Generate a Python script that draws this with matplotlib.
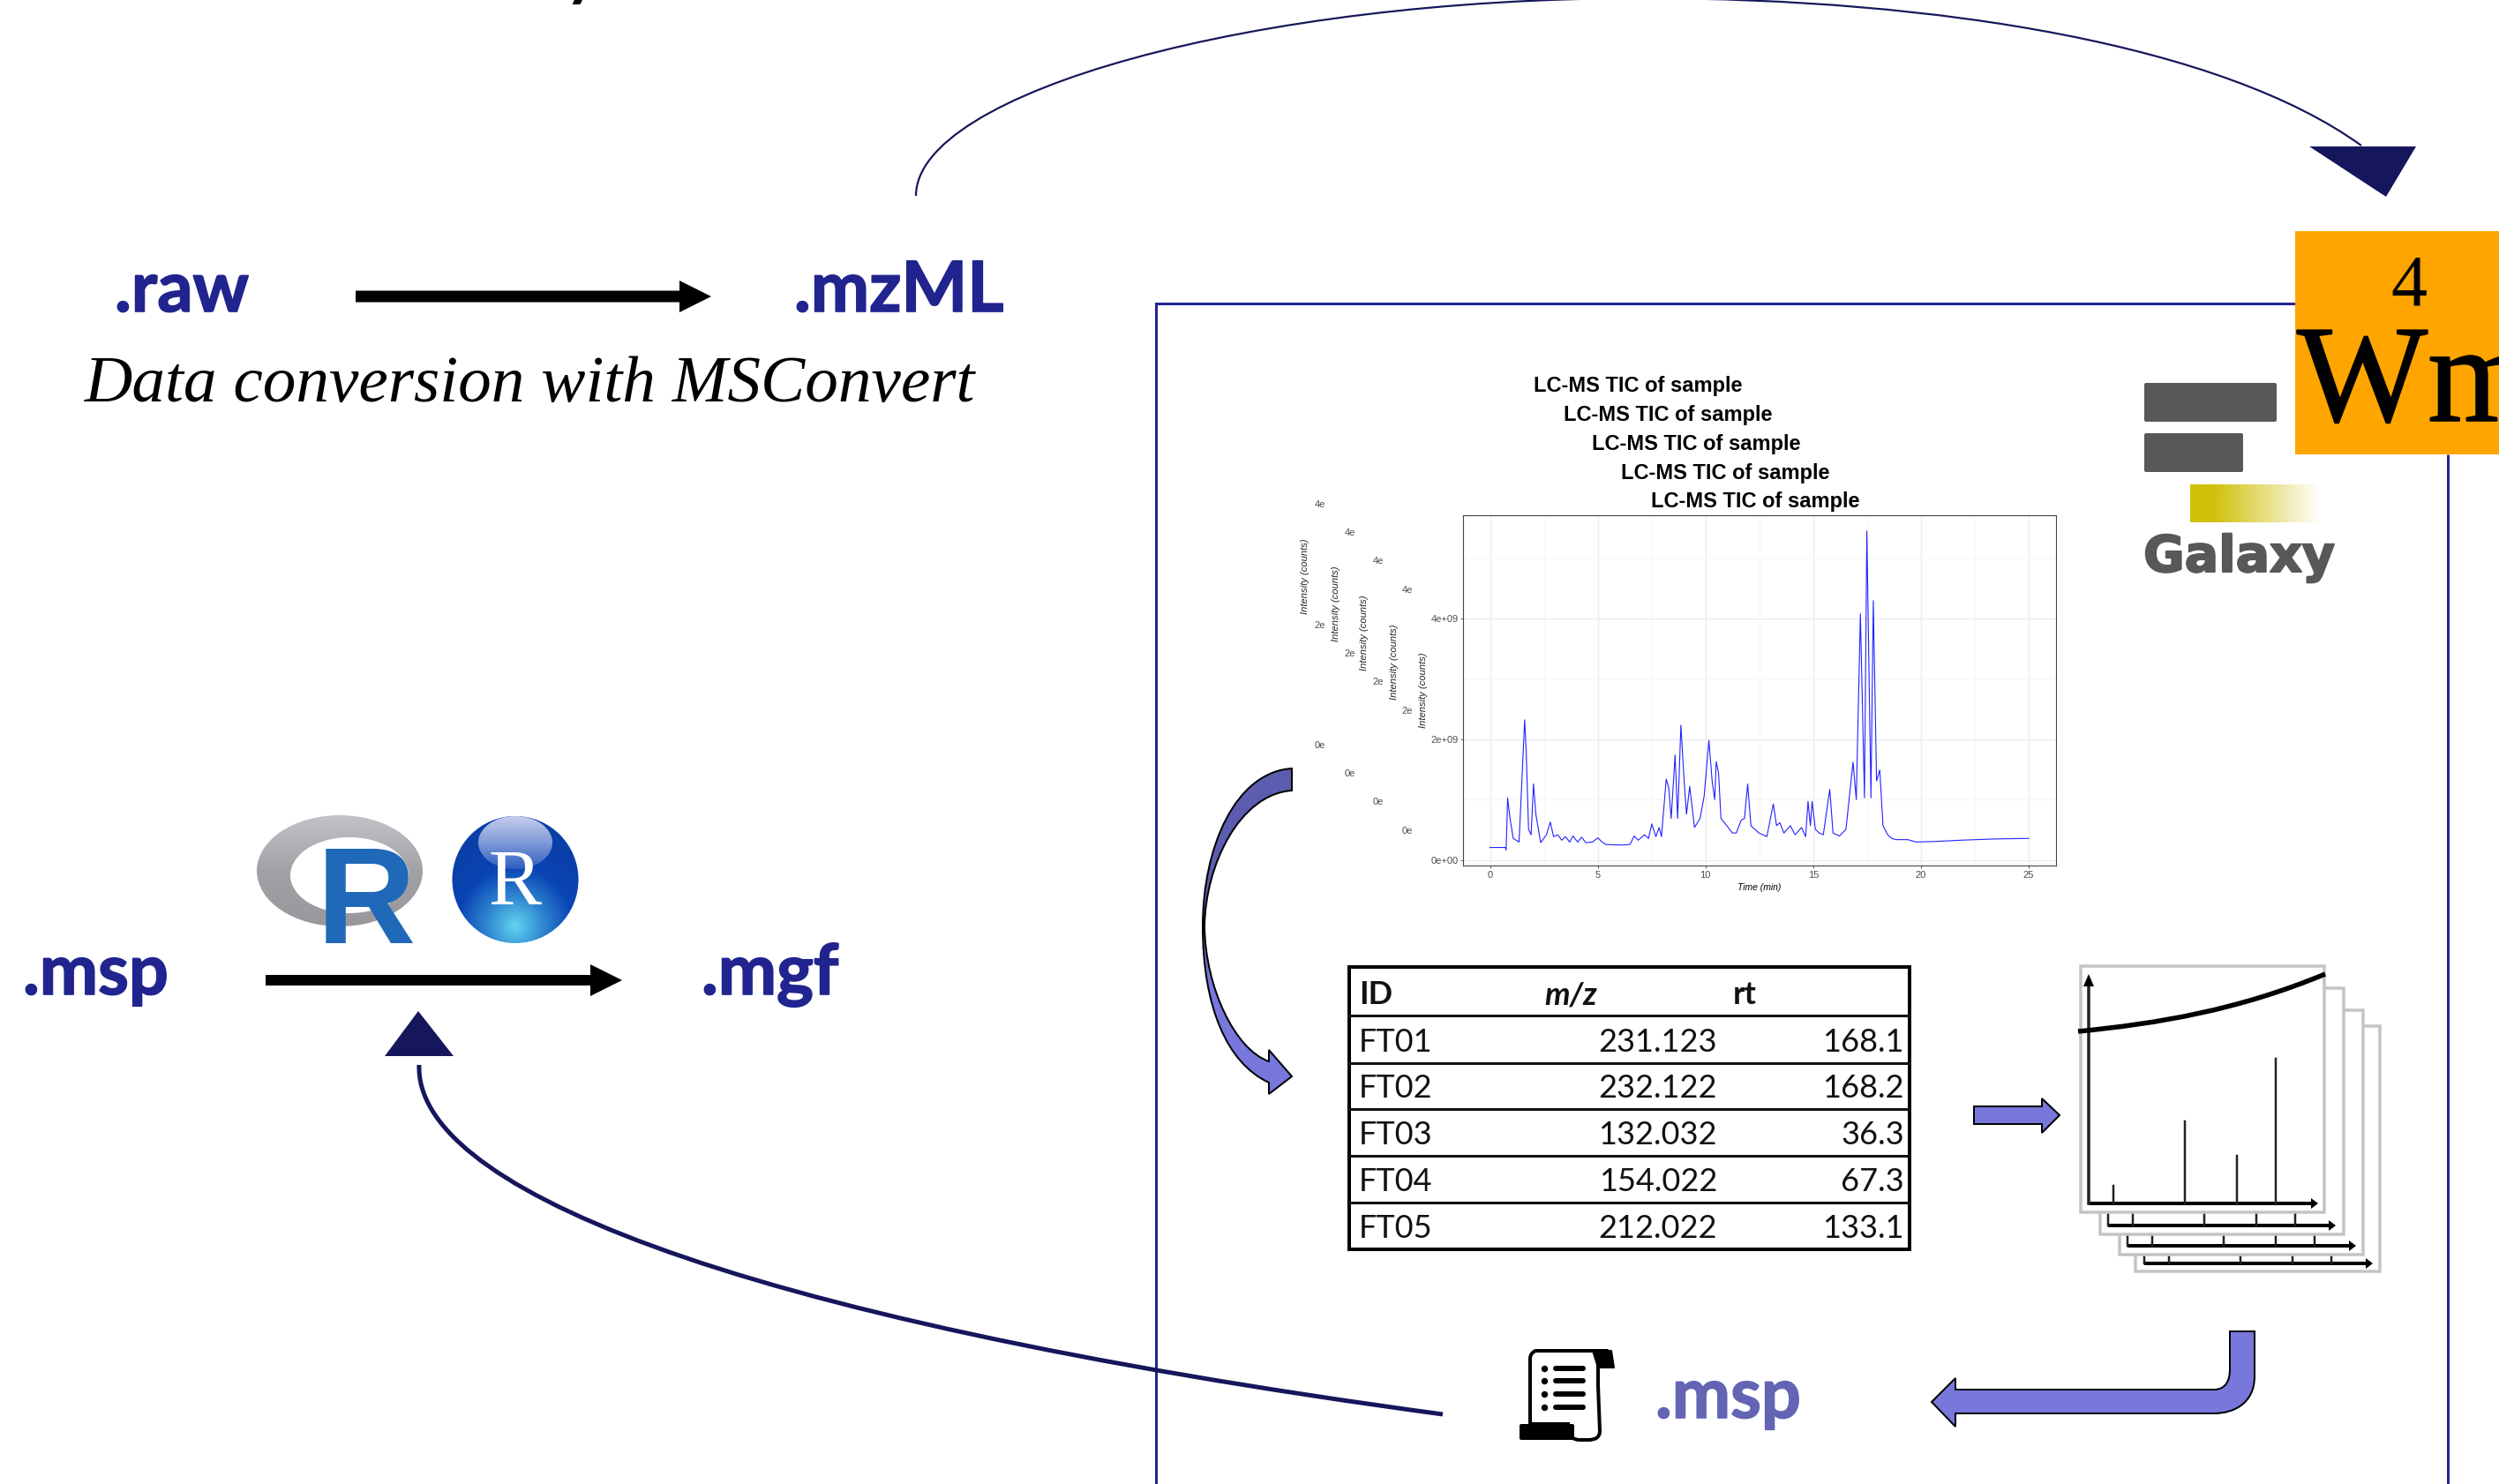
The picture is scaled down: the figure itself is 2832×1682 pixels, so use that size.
import numpy as np
import matplotlib
matplotlib.use("Agg")
import matplotlib.pyplot as plt
import matplotlib.patheffects as pe
from matplotlib.colors import LinearSegmentedColormap, to_rgb
from matplotlib.patches import Ellipse, FancyBboxPatch, PathPatch, Polygon, Rectangle
from matplotlib.path import Path

W, H = 2832, 1682

# TIC trace
tic_time = [0, .71, .75, .82, .93, 1.08, 1.35, 1.61, 1.68, 1.79, 1.91, 2.02, 2.13, 2.35, 2.62, 2.80, 2.95,
            3.15, 3.33, 3.50, 3.70, 3.85, 4.07, 4.25, 4.45, 4.75, 5.01, 5.20, 5.38, 6.13, 6.50, 6.69, 6.88, 7.17, 7.36, 7.51, 7.70, 7.85, 7.96,
            8.18, 8.30, 8.41, 8.59, 8.71, 8.86, 9.01, 9.12, 9.27, 9.49, 9.75, 9.94, 10.16, 10.31, 10.43,
            10.50, 10.61, 10.72, 10.99, 11.25, 11.43, 11.66, 11.81, 11.96, 12.11, 12.48, 12.85, 13.15,
            13.30, 13.45, 13.64, 13.94, 14.16, 14.46, 14.65, 14.76, 14.87, 14.95, 15.10, 15.28, 15.47,
            15.77, 15.92, 16.22, 16.52, 16.85, 17.00, 17.19, 17.38, 17.49, 17.68, 17.79, 17.94, 18.09,
            18.24, 18.46, 18.65, 18.83, 19.39, 19.77, 20.70, 21.82, 23.32, 25.0]
tic_intensity = [.21, .21, .17, 1.03, .69, .36, .30, 2.32, 1.80, .51, .42, 1.26, .76, .29, .42, .63, .39,
                 .42, .33, .39, .30, .40, .30, .38, .29, .30, .37, .30, .26, .25, .26, .40, .33, .42, .36, .60, .39, .54, .39,
                 1.34, 1.19, .69, 1.74, .69, 2.23, 1.31, .76, 1.22, .54, .69, 1.06, 1.98, 1.31, 1.00,
                 1.63, 1.43, .69, .57, .45, .45, .66, .69, 1.26, .57, .45, .39, .93,
                 .57, .62, .45, .57, .42, .54, .39, .97, .57, .97, .51, .45, .42,
                 1.17, .45, .40, .51, 1.62, 1.00, 4.07, 1.03, 5.44, 1.03, 4.29, 1.31, 1.49,
                 .57, .42, .36, .34, .34, .30, .31, .33, .35, .36]

time_ticks = [0, 5, 10, 15, 20, 25]
intensity_ticks = [0, 2, 4]
intensity_labels = ["0e+00", "2e+09", "4e+09"]

table_ids = ["FT01", "FT02", "FT03", "FT04", "FT05"]
table_mz = ["231.123", "232.122", "132.032", "154.022", "212.022"]
table_rt = ["168.1", "168.2", "36.3", "67.3", "133.1"]

spectrum_peaks = [36, 117, 176, 220]
spectrum_heights = [20, 93, 54, 164]

NAVY = "#21248f"
DARK = "#16165c"
PURPLE = "#7777dc"
MSP_PURPLE = "#6464b4"


def px(v):
    return v * 0.72


def baseline_text(x, y, s, **kw):
    return ax.text(x, y, s, va="baseline", **kw)


def thicken(t, width, colour):
    t.set_path_effects([pe.withStroke(linewidth=width, foreground=colour)])


def gradient_in(patch, extent, img, z):
    ax.add_patch(patch)
    im = ax.imshow(img, extent=extent, aspect="auto", zorder=z, interpolation="bilinear")
    im.set_clip_path(patch)


def ramp(colours, n=256):
    return LinearSegmentedColormap.from_list("r", colours)(np.linspace(0, 1, n))


fig = plt.figure(figsize=(W / 100, H / 100), dpi=100, facecolor="white")
ax = fig.add_axes([0, 0, 1, 1])
ax.set_axis_off()

# top bit of the cut off heading
baseline_text(640, -8, "y", fontsize=54, family="Lato", fontweight="bold", color="black")

# format labels
label_style = dict(fontsize=57, family="Lato", fontweight="bold", color=NAVY)
for x, y, s in [(130, 353, ".raw"), (900, 353, ".mzML"), (26, 1127, ".msp"), (795, 1127, ".mgf")]:
    thicken(baseline_text(x, y, s, **label_style), 1.2, NAVY)
thicken(baseline_text(1876, 1607, ".msp", **{**label_style, "color": MSP_PURPLE}), 1.2, MSP_PURPLE)
baseline_text(96, 455, "Data conversion with MSConvert", fontsize=54.2, family="Liberation Serif",
              style="italic", color="black")


def block_arrow(x0, x1, y, half, head_x, head_half):
    ax.add_patch(Polygon([(x0, y - half), (head_x, y - half), (head_x, y - head_half), (x1, y),
                          (head_x, y + head_half), (head_x, y + half), (x0, y + half)],
                         closed=True, fc="black", ec="none", zorder=3))


block_arrow(403, 806, 336, 6.5, 770, 18)
block_arrow(301, 705, 1111, 6, 669, 18)

# workflow curves
top_curve = Path([(1038, 222), (1038, 105), (1420, -2), (1860, -2), (2200, -2), (2520, 52), (2676, 165)],
                 [Path.MOVETO] + [Path.CURVE4] * 6)
ax.add_patch(PathPatch(top_curve, fc="none", ec=DARK, lw=px(2.2), zorder=2))
ax.add_patch(Polygon([(2617, 166), (2738, 166), (2704, 223)], closed=True, fc=DARK, ec="none", zorder=3))

back_curve = Path([(475, 1207), (470, 1340), (800, 1490), (1635, 1603)], [Path.MOVETO] + [Path.CURVE4] * 3)
ax.add_patch(PathPatch(back_curve, fc="none", ec=DARK, lw=px(5), zorder=4))
ax.add_patch(Polygon([(474, 1146), (436, 1197), (514, 1197)], closed=True, fc=DARK, ec="none", zorder=3))

# galaxy frame
ax.plot([2774, 2774], [515, H + 5], color=NAVY, lw=px(3), zorder=2, solid_capstyle="butt")
ax.plot([1310, 1310, 2601], [H + 5, 344, 344], color=NAVY, lw=px(3), zorder=2, solid_joinstyle="miter")

# Wm badge
ax.add_patch(Rectangle((2601, 262), W - 2601 + 5, 253, fc="#ffa500", ec="none", zorder=5))
ax.text(2730, 345, "4", fontsize=59, family="Liberation Serif", ha="center", va="baseline", zorder=6, color="black")
thicken(baseline_text(2603, 477, "Wm", fontsize=113, family="Liberation Serif", zorder=6, color="black", clip_on=True),
        1.2, "black")

# Galaxy logo
for x0, x1, y0, y1 in [(2430, 2580, 434, 478), (2430, 2542, 491, 535)]:
    ax.add_patch(FancyBboxPatch((x0 + 2, y0 + 2), x1 - x0 - 4, y1 - y0 - 4, boxstyle="round,pad=2", fc="#58585a",
                                ec="none", zorder=3))
bar_img = np.ones((2, 256, 4))
bar_img[:, :, :3] = to_rgb("#d0c00a")
bar_img[:, :, 3] = np.clip(1.0 - (np.linspace(0, 1, 256) - 0.17) / 0.83, 0, 1)
gradient_in(Rectangle((2482, 549), 148, 43, fc="none", ec="none", zorder=3), (2482, 2630, 592, 549), bar_img, 3)
thicken(baseline_text(2429, 648, "Galaxy", fontsize=41, family="DejaVu Sans", fontweight="bold", color="#58585a", zorder=3),
        1.5, "#58585a")

# ghost copies behind the TIC plot
ghost_x = [1496, 1530, 1562, 1595]
ghost_top = [572, 604, 636, 669]
ghost_mid = [709, 741, 773, 806]
ghost_low = [845, 877, 909, 942]
for x, a, b, c in zip(ghost_x, ghost_top, ghost_mid, ghost_low):
    for y, lab in [(a, "4e"), (b, "2e"), (c, "0e")]:
        ax.text(x, y, lab, fontsize=8, family="Liberation Sans", color="#4d4d4d", ha="center", va="center")
ylabel_x = [1479, 1514, 1546, 1580, 1613]
ylabel_y = [653, 684, 717, 750, 782]
for x, y in zip(ylabel_x, ylabel_y):
    ax.text(x, y, "Intensity (counts)", fontsize=8, family="Liberation Sans", style="italic", rotation=90,
            color="#222222", ha="center", va="center")

title_x = [1738, 1772, 1804, 1837, 1871]
title_y = [437, 470, 503, 536, 569]
for x, y in zip(title_x, title_y):
    ax.text(x, y, "LC-MS TIC of sample", fontsize=17, family="Liberation Sans", fontweight="bold", color="black",
            va="center")

# TIC plot
tic = fig.add_axes([1658 / W, 1 - 981 / H, (2330 - 1658) / W, (981 - 584) / H], zorder=5)
tic.plot(tic_time, tic_intensity, color="#2222ff", lw=0.8)
tic.set_xlim(-1.25, 26.27)
tic.set_ylim(-0.088, 5.7)
tic.set_xticks(time_ticks)
tic.set_yticks(intensity_ticks)
tic.set_yticklabels(intensity_labels)
tic.set_xticks([2.5, 7.5, 12.5, 17.5, 22.5], minor=True)
tic.set_yticks([1, 3, 5], minor=True)
tic.grid(True, which="major", color="#ececec", lw=0.9)
tic.grid(True, which="minor", color="#f4f4f4", lw=0.6)
tic.set_axisbelow(True)
tic.tick_params(which="major", length=2, width=0.6, color="#444444", labelsize=8, labelcolor="#4d4d4d", pad=2)
tic.tick_params(which="minor", length=0)
for lab in tic.get_xticklabels() + tic.get_yticklabels():
    lab.set_family("Liberation Sans")
for s in tic.spines.values():
    s.set_color("#444444")
    s.set_linewidth(0.8)
tic.set_xlabel("Time (min)", fontsize=7.5, style="italic", family="Liberation Sans", labelpad=3)

# left curved arrow, top is darker than the bottom
left_arrow = Path(
    [(1464, 871), (1400, 875), (1363, 960), (1363, 1050), (1363, 1140), (1390, 1205), (1438, 1227),
     (1438, 1240), (1464, 1220), (1438, 1190), (1438, 1203),
     (1400, 1190), (1366, 1120), (1365, 1050), (1366, 980), (1405, 900), (1464, 896), (1464, 871)],
    [Path.MOVETO] + [Path.CURVE4] * 6 + [Path.LINETO] * 4 + [Path.CURVE4] * 6 + [Path.CLOSEPOLY])
left_img = ramp(["#5c5cb0", "#5c5cb0", PURPLE, PURPLE])[:, None, :]
gradient_in(PathPatch(left_arrow, fc="none", ec="none", zorder=3), (1360, 1466, 1242, 869), left_img, 3)
ax.add_patch(PathPatch(left_arrow, fc="none", ec="black", lw=px(2), zorder=4))

# peak table
tbl_left, tbl_right = 1529, 2164
tbl_rows = [1096, 1151, 1205, 1257, 1310, 1363, 1416]
ax.add_patch(Rectangle((tbl_left, tbl_rows[0]), tbl_right - tbl_left, tbl_rows[-1] - tbl_rows[0], fc="white",
                       ec="black", lw=px(4), zorder=3))
for y in tbl_rows[1:-1]:
    ax.plot([tbl_left, tbl_right], [y, y], color="#111111", lw=px(3), zorder=4)
table_font = dict(fontsize=26, family="Lato", color="#111111", va="center", zorder=5)
ax.text(1540, 1128, "ID", fontweight="bold", **table_font)
ax.text(1750, 1128, "m/z", fontweight="bold", style="italic", **table_font)
ax.text(1964, 1128, "rt", fontweight="bold", **table_font)
for i in range(len(table_ids)):
    yc = (tbl_rows[i + 1] + tbl_rows[i + 2]) / 2 + 3
    ax.text(1540, yc, table_ids[i], **table_font)
    ax.text(1946, yc, table_mz[i], ha="right", **table_font)
    ax.text(2158, yc, table_rt[i], ha="right", **table_font)

# arrow table -> spectra
ax.add_patch(Polygon([(2237, 1254), (2314, 1254), (2314, 1245), (2334, 1264), (2314, 1284), (2314, 1274), (2237, 1274)],
                     closed=True, fc=PURPLE, ec="black", lw=px(2), zorder=3))

# stacked spectra, back to front
page_left = [2420, 2402, 2380, 2358]
page_right = [2697, 2678, 2656, 2634]
page_top = [1163, 1145, 1120, 1095]
page_bottom = [1441, 1422, 1399, 1374]
axis_y = [1432, 1412, 1389, 1364]
axis_x = [2430, 2411, 2389, 2367]
axis_end = [2689, 2670, 2647, 2627]
tick_top = [1422, 1399, 1374, None]
for i in range(4):
    ax.add_patch(Rectangle((page_left[i], page_top[i]), page_right[i] - page_left[i], page_bottom[i] - page_top[i],
                           fc="white", ec="#c4c4c4", lw=px(3.5), zorder=3 + i * 0.1))
    z = 3.05 + i * 0.1
    ax.add_patch(Polygon([(axis_x[i], axis_y[i] - 2), (axis_end[i] - 8, axis_y[i] - 2), (axis_end[i] - 8, axis_y[i] - 6),
                          (axis_end[i], axis_y[i]), (axis_end[i] - 8, axis_y[i] + 6), (axis_end[i] - 8, axis_y[i] + 2),
                          (axis_x[i], axis_y[i] + 2)], closed=True, fc="black", ec="none", zorder=z))
    for p, h in zip(spectrum_peaks, spectrum_heights):
        if tick_top[i] is None:
            ax.plot([axis_x[i] + p - 8.5] * 2, [axis_y[i], axis_y[i] - h], color="#222222", lw=px(2.5), zorder=z)
        else:
            ax.plot([axis_x[i] + p - 8.5] * 2, [axis_y[i], tick_top[i] + 2], color="#222222", lw=px(2.5), zorder=z)
    if tick_top[i] is not None:
        ax.plot([axis_x[i], axis_x[i]], [axis_y[i], tick_top[i] + 2], color="#222222", lw=px(2.5), zorder=z)
# front page details
ax.plot([2367, 2367], [1364, 1112], color="#222222", lw=px(3.5), zorder=3.5)
ax.add_patch(Polygon([(2367, 1104), (2361, 1118), (2373, 1118)], closed=True, fc="black", ec="none", zorder=3.5))
front_curve = Path([(2355, 1169), (2446, 1160), (2536, 1145), (2635, 1104)], [Path.MOVETO] + [Path.CURVE4] * 3)
ax.add_patch(PathPatch(front_curve, fc="none", ec="black", lw=px(5.5), zorder=3.6))

# arrow spectra -> msp
elbow = Path([(2527, 1509), (2555, 1509), (2555, 1560), (2555, 1590), (2532, 1602), (2509, 1602), (2216, 1602),
              (2216, 1617), (2189, 1589), (2216, 1562), (2216, 1575), (2509, 1575), (2522, 1575), (2527, 1565),
              (2527, 1552), (2527, 1509)],
             [Path.MOVETO, Path.LINETO, Path.LINETO, Path.CURVE4, Path.CURVE4, Path.CURVE4, Path.LINETO, Path.LINETO,
              Path.LINETO, Path.LINETO, Path.LINETO, Path.LINETO, Path.CURVE4, Path.CURVE4, Path.CURVE4, Path.CLOSEPOLY])
ax.add_patch(PathPatch(elbow, fc=PURPLE, ec="black", lw=px(2), zorder=3))

# scroll icon
scroll = Path([(1734, 1614), (1734, 1540), (1734, 1534), (1740, 1531), (1745, 1531), (1818, 1531), (1813, 1535),
               (1811, 1545), (1811, 1570), (1813, 1622), (1813, 1632), (1800, 1632), (1790, 1632), (1780, 1632),
               (1777, 1622), (1777, 1614), (1734, 1614)],
              [Path.MOVETO, Path.LINETO, Path.CURVE3, Path.CURVE3, Path.LINETO, Path.LINETO, Path.CURVE3,
               Path.CURVE3, Path.LINETO, Path.LINETO, Path.CURVE3, Path.CURVE3, Path.LINETO, Path.CURVE3,
               Path.CURVE3, Path.LINETO, Path.CLOSEPOLY])
ax.add_patch(PathPatch(scroll, fc="white", ec="black", lw=px(4), zorder=3))
ax.add_patch(Polygon([(1805, 1531), (1826, 1531), (1829, 1550), (1811, 1550)], closed=True, fc="black", ec="black",
                     lw=px(2), joinstyle="round", zorder=4))
ax.add_patch(FancyBboxPatch((1724, 1616), 58, 14, boxstyle="round,pad=2", fc="black", ec="none", zorder=4))
for y in [1551, 1565, 1580, 1595]:
    ax.plot([1750], [y], "o", color="black", ms=px(6), zorder=4)
    ax.plot([1763, 1794], [y, y], color="black", lw=px(6), solid_capstyle="round", zorder=4)

# R logo
ring_img = ramp(["#c2c3c8", "#a2a2a6", "#98989c"])[:, None, :]
gradient_in(Ellipse((385, 987), 188, 126, fc="none", ec="none", zorder=3), (290, 480, 1051, 923), ring_img, 3)
ax.add_patch(Ellipse((396, 992), 134, 86, fc="white", ec="none", zorder=3.2))
baseline_text(359, 1069, "R", fontsize=112, family="Liberation Sans", fontweight="bold", color="#2068b8", zorder=4)

# RStudio style sphere
u, v = np.meshgrid(np.linspace(-1, 1, 200), np.linspace(-1, 1, 200))
d = np.clip(np.sqrt(u ** 2 + (v - 0.72) ** 2) / 1.35, 0, 1)
sphere_cols = ramp(["#60d4f0", "#2f86d0", "#0a45b5", "#0a3fa8"])
sphere_img = sphere_cols[(d * 255).astype(int)]
gradient_in(Ellipse((584, 997), 143, 144, fc="none", ec="none", zorder=3), (512, 656, 1070, 924), sphere_img, 3)
shine_img = ramp(["#c8d0ee", "#7f9bd8", "#2a5cc0"])[:, None, :]
gradient_in(Ellipse((584, 955), 84, 60, fc="none", ec="none", zorder=3.5), (540, 628, 986, 924), shine_img, 3.5)
baseline_text(584, 1026, "R", fontsize=65, family="Liberation Serif", color="white", ha="center", zorder=5)

ax.set_xlim(0, W)
ax.set_ylim(H, 0)

fig.savefig("out.png", dpi=100)
